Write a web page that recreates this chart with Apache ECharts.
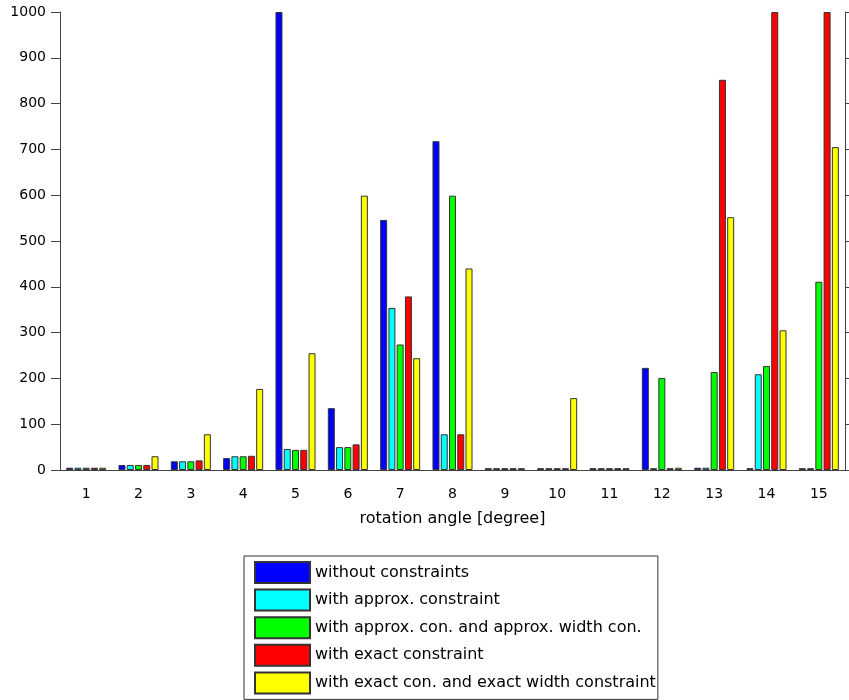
<!DOCTYPE html>
<html>
<head>
<meta charset="utf-8">
<script src="https://cdn.jsdelivr.net/npm/echarts@6/dist/echarts.min.js"></script>
<style>
html,body{margin:0;padding:0;background:#fff;}
#chart{width:849px;height:700px;}
</style>
</head>
<body>
<div id="chart"></div>
<script>
var categories = ['1','2','3','4','5','6','7','8','9','10','11','12','13','14','15'];
var seriesNames = ['without constraints','with approx. constraint','with approx. con. and approx. width con.','with exact constraint','with exact con. and exact width constraint'];
var withoutConstraints   = [5, 11, 19, 26, 1000, 135, 546, 718, 4, 4, 4, 223, 5, 4, 4];
var approxConstraint     = [5, 11, 19, 30, 46, 50, 354, 78, 4, 4, 4, 4, 5, 209, 4];
var approxConWidthCon    = [5, 11, 19, 30, 44, 50, 274, 599, 4, 4, 4, 201, 214, 227, 411];
var exactConstraint      = [5, 11, 21, 31, 44, 56, 379, 78, 4, 4, 4, 4, 852, 1000, 1000];
var exactConWidthCon     = [5, 30, 78, 177, 255, 599, 244, 440, 4, 157, 4, 5, 552, 305, 705];
var yTicks = [0, 100, 200, 300, 400, 500, 600, 700, 800, 900, 1000];
var colors = ['#0000ff','#00ffff','#00ff00','#ff0000','#ffff00'];
var allData = [withoutConstraints, approxConstraint, approxConWidthCon, exactConstraint, exactConWidthCon];

var font = 'DejaVu Sans';
var axisColor = '#444';
var chart = echarts.init(document.getElementById('chart'), null, {renderer:'canvas'});
var series = seriesNames.map(function(n, i){
  return {
    name: n, type: 'bar', data: allData[i], clip: true,
    xAxisIndex: 0, yAxisIndex: 0,
    barWidth: 7, barGap: '18%',
    itemStyle: {color: colors[i], borderColor: '#333', borderWidth: 1},
    emphasis: {disabled: true}
  };
});
chart.setOption({
  animation: false,
  backgroundColor: '#fff',
  color: colors,
  grid: {left: 60, right: 4, top: 12, bottom: 230, containLabel: false},
  legend: {
    orient: 'vertical', left: 244, top: 556, height: 170, width: 420,
    itemWidth: 55, itemHeight: 21, itemGap: 4.6,
    padding: [5, 2, 5, 10],
    borderColor: '#333', borderWidth: 1,
    icon: 'rect',
    textStyle: {fontFamily: font, fontSize: 16, color: '#000'},
    data: seriesNames
  },
  xAxis: [{
    type: 'category', data: categories, position: 'bottom',
    axisLine: {lineStyle: {color: axisColor}},
    axisTick: {alignWithLabel: true, length: 8, lineStyle: {color: axisColor}},
    axisLabel: {fontFamily: font, fontSize: 14, color: '#000', margin: 17},
    name: 'rotation angle [degree]', nameLocation: 'middle', nameGap: 41,
    nameTextStyle: {fontFamily: font, fontSize: 16, color: '#000'}
  }, {
    type: 'category', data: categories, position: 'top',
    axisLine: {lineStyle: {color: axisColor}},
    axisTick: {alignWithLabel: true, length: 9, lineStyle: {color: axisColor}},
    axisLabel: {show: false}
  }],
  yAxis: [{
    type: 'value', min: yTicks[0], max: yTicks[yTicks.length-1], interval: 100, position: 'left',
    axisLine: {show: true, lineStyle: {color: axisColor}},
    axisTick: {show: true, length: 9, lineStyle: {color: axisColor}},
    axisLabel: {fontFamily: font, fontSize: 14, color: '#000', margin: 14, formatter: function(v){ return String(v); }},
    splitLine: {show: false}
  }, {
    type: 'value', min: yTicks[0], max: yTicks[yTicks.length-1], interval: 100, position: 'right',
    axisLine: {show: true, lineStyle: {color: axisColor}},
    axisTick: {show: true, length: 9, lineStyle: {color: axisColor}},
    axisLabel: {show: false},
    splitLine: {show: false}
  }],
  series: series
});
</script>
</body>
</html>
